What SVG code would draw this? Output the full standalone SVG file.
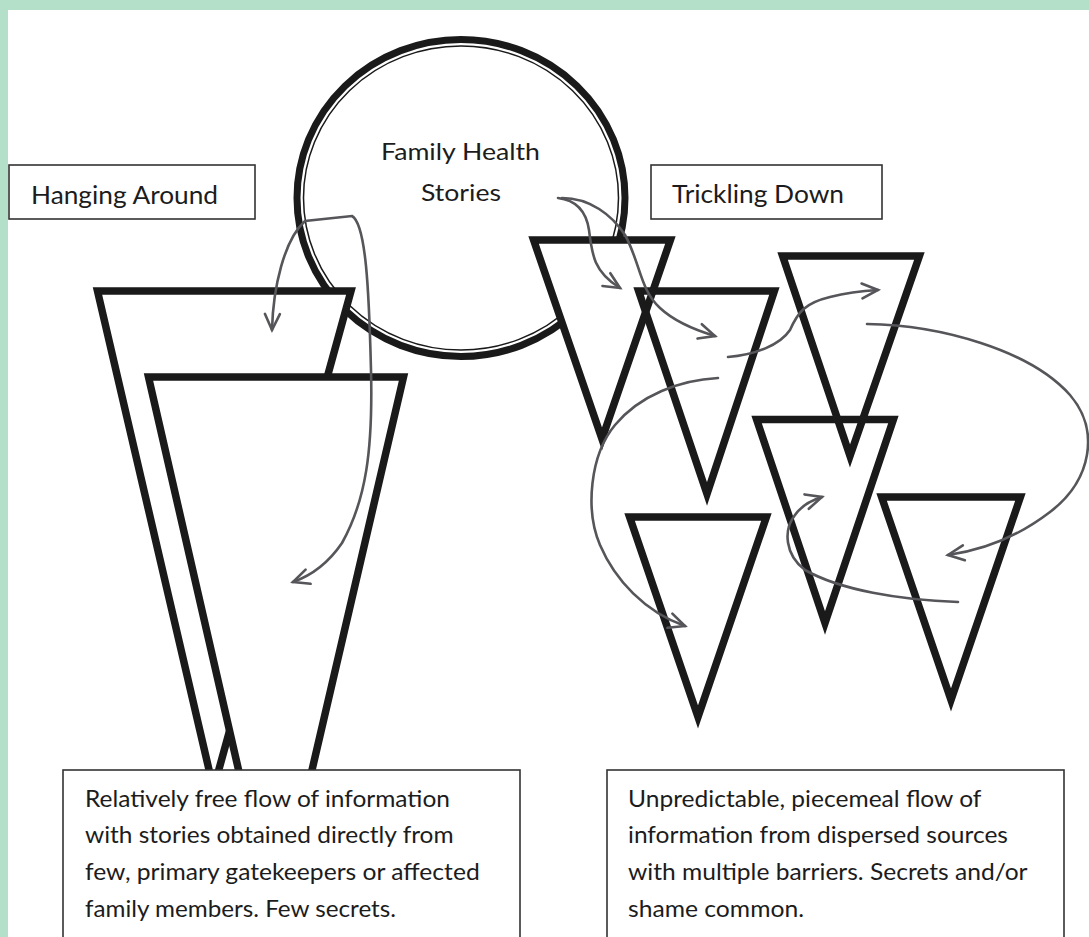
<svg xmlns="http://www.w3.org/2000/svg" width="1089" height="937" viewBox="0 0 1089 937">
<style>
.shape{fill:#fff;stroke:#1a1a1a;stroke-width:7.5;stroke-linejoin:miter;stroke-miterlimit:10}
.fillonly{fill:#fff;stroke:none}
.lineonly{fill:none;stroke:#1a1a1a;stroke-width:7.5;stroke-linejoin:miter;stroke-miterlimit:10}
.box{fill:#fff;stroke:#333;stroke-width:1.6}
.lbl{font-family:Lato,"Open Sans",sans-serif;fill:#1c1c1c}
.conn{fill:none;stroke:#55555a;stroke-width:2.6;stroke-linecap:round}
</style>
<defs>
<marker id="arr" markerUnits="userSpaceOnUse" markerWidth="22" markerHeight="22" refX="18" refY="10" orient="auto" viewBox="0 0 22 22">
<path d="M2,2.5 L18,10 L2,17.5" fill="none" stroke="#55555a" stroke-width="2.6" stroke-linecap="round" stroke-linejoin="miter"/>
</marker>
<marker id="arrs" markerUnits="userSpaceOnUse" markerWidth="22" markerHeight="22" refX="18" refY="10" orient="auto-start-reverse" viewBox="0 0 22 22">
<path d="M2,2.5 L18,10 L2,17.5" fill="none" stroke="#55555a" stroke-width="2.6" stroke-linecap="round" stroke-linejoin="miter"/>
</marker>
</defs>
<rect x="0" y="0" width="1089" height="937" fill="#b4e0ca"/>
<rect x="8" y="10" width="1081" height="927" fill="#fff"/>

<g id="family-health-stories">
<ellipse cx="461" cy="198" rx="164" ry="158.5" fill="#fff" stroke="#1a1a1a" stroke-width="7"/>
<ellipse cx="461" cy="198" rx="157.5" ry="152" fill="none" stroke="#1a1a1a" stroke-width="1.5"/>
</g>

<g id="hanging-around-funnels">
<polygon class="shape" points="97.5,291 351,291 213.5,789"/>
<polygon class="shape" points="148.5,377 403.5,377 275,929"/>
</g>

<g id="trickling-down-triangles">
<g class="fills">
<polygon class="fillonly" points="533.6,240 670.4,240 602,439"/>
<polygon class="fillonly" points="638.6,291 774.4,291 707,494"/>
<polygon class="fillonly" points="782.6,256 919.4,256 850,456"/>
<polygon class="fillonly" points="756.6,419.5 893.4,419.5 825,623"/>
<polygon class="fillonly" points="629.6,517 766.4,517 698,717"/>
<polygon class="fillonly" points="881.6,497 1020.4,497 951,700"/>
</g>
<polygon id="t1" class="lineonly" points="533.6,240 670.4,240 602,439"/>
<polygon id="t2" class="lineonly" points="638.6,291 774.4,291 707,494"/>
<polygon id="t3" class="lineonly" points="782.6,256 919.4,256 850,456"/>
<polygon id="t4" class="lineonly" points="756.6,419.5 893.4,419.5 825,623"/>
<polygon id="t5" class="lineonly" points="629.6,517 766.4,517 698,717"/>
<polygon id="t6" class="lineonly" points="881.6,497 1020.4,497 951,700"/>
</g>

<g id="hanging-around-label">
<rect class="box" x="9" y="165" width="246" height="54"/>
<text class="lbl" x="31" y="204" font-size="25.5" textLength="187" lengthAdjust="spacingAndGlyphs">Hanging Around</text>
</g>

<g id="trickling-down-label">
<rect class="box" x="651" y="165" width="231" height="54"/>
<text class="lbl" x="672" y="203.3" font-size="25" textLength="172" lengthAdjust="spacingAndGlyphs">Trickling Down</text>
</g>

<g id="circle-text">
<text class="lbl" x="381" y="160" font-size="24" textLength="159" lengthAdjust="spacingAndGlyphs">Family Health</text>
<text class="lbl" x="421" y="200.7" font-size="24" textLength="80" lengthAdjust="spacingAndGlyphs">Stories</text>
</g>

<g id="connectors">
<path class="conn" marker-start="url(#arrs)" marker-end="url(#arr)" d="M272,330 C273,288 284,240 305,221 L352,216 C366,224 369,290 371,370 C373,450 366,500 342,543 C327,565 310,576 293,582"/>
<path class="conn" marker-end="url(#arr)" d="M558,198 C575,200 586,210 589,230 C592,255 594,272 620,288"/>
<path class="conn" marker-end="url(#arr)" d="M562,198 C590,198 612,215 625,235 C640,262 640,290 660,308 C675,322 695,330 715,336"/>
<path class="conn" marker-end="url(#arr)" d="M728,357 C755,355 780,345 790,330 C798,312 805,303 830,297 C850,292 862,291 878,290"/>
<path class="conn" marker-end="url(#arr)" d="M867,324 C940,325 1030,350 1070,395 C1100,430 1092,480 1050,512 C1020,535 985,550 948,555"/>
<path class="conn" marker-end="url(#arr)" d="M718,378 C680,380 640,395 615,425 C590,455 585,510 600,545 C615,580 645,612 685,626"/>
<path class="conn" marker-end="url(#arr)" d="M958,602 C900,600 840,590 805,570 C785,555 783,530 795,515 C802,505 812,500 822,497"/>
</g>

<g id="hanging-around-description">
<rect class="box" x="63" y="770" width="457" height="200"/>
<text class="lbl" font-size="23.3">
<tspan x="85" y="806.7" textLength="365" lengthAdjust="spacingAndGlyphs">Relatively free flow of information</tspan>
<tspan x="85" y="843.3" textLength="368.6" lengthAdjust="spacingAndGlyphs">with stories obtained directly from</tspan>
<tspan x="85" y="880" textLength="394.7" lengthAdjust="spacingAndGlyphs">few, primary gatekeepers or affected</tspan>
<tspan x="85" y="916.7" textLength="311" lengthAdjust="spacingAndGlyphs">family members. Few secrets.</tspan>
</text>
</g>

<g id="trickling-down-description">
<rect class="box" x="607" y="770" width="457" height="200"/>
<text class="lbl" font-size="23.3">
<tspan x="628" y="806.7" textLength="353" lengthAdjust="spacingAndGlyphs">Unpredictable, piecemeal flow of</tspan>
<tspan x="628" y="843.3" textLength="380" lengthAdjust="spacingAndGlyphs">information from dispersed sources</tspan>
<tspan x="628" y="880" textLength="399" lengthAdjust="spacingAndGlyphs">with multiple barriers. Secrets and/or</tspan>
<tspan x="628" y="916.7" textLength="176" lengthAdjust="spacingAndGlyphs">shame common.</tspan>
</text>
</g>
</svg>
